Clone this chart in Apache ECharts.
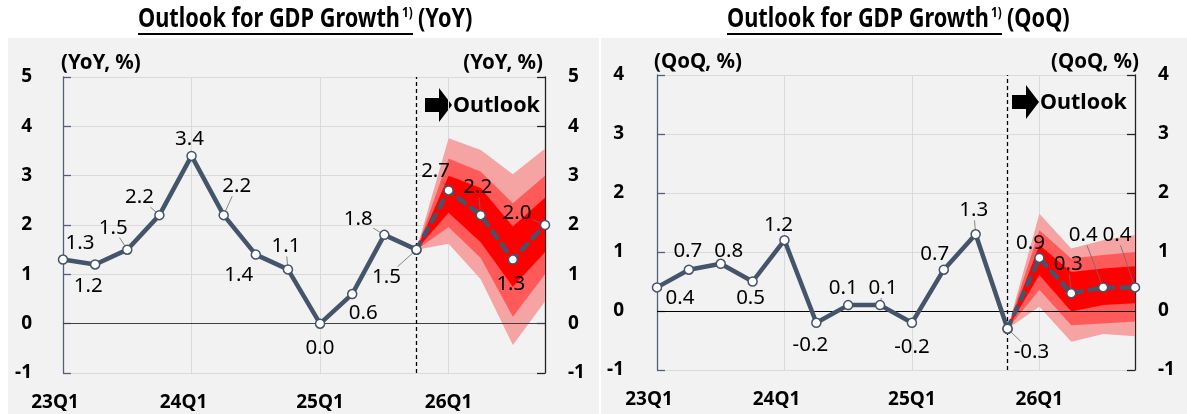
<!DOCTYPE html>
<html>
<head>
<meta charset="utf-8">
<script src="https://cdn.jsdelivr.net/npm/echarts@6/dist/echarts.min.js"></script>
<style>
  html, body { margin: 0; padding: 0; background: #ffffff; }
  #wrap { position: relative; width: 1187px; height: 414px; overflow: hidden; }
  .panel { position: absolute; background: #f2f2f2; }
  #chart { position: absolute; left: 0; top: 0; width: 1187px; height: 414px; }
</style>
</head>
<body>
<div id="wrap">
  <div class="panel" style="left:8px; top:38px; width:591px; height:376px;"></div>
  <div class="panel" style="left:601px; top:38px; width:586px; height:376px;"></div>
  <div id="chart"></div>
</div>
<script>
// Quarters on the horizontal axis
const categories = ['23Q1','23Q2','23Q3','23Q4','24Q1','24Q2','24Q3','24Q4',
                    '25Q1','25Q2','25Q3','25Q4','26Q1','26Q2','26Q3','26Q4'];

// Year-on-year GDP growth (%): outturn and outlook
const yoyActual  = [1.3, 1.2, 1.5, 2.2, 3.4, 2.2, 1.4, 1.1, 0.0, 0.6, 1.8, 1.5, null, null, null, null];
const yoyOutlook = [null, null, null, null, null, null, null, null, null, null, null, 1.5, 2.7, 2.2, 1.3, 2.0];

// Year-on-year uncertainty bands (outer / middle / inner)
const yoyOuterHigh = [null, null, null, null, null, null, null, null, null, null, null, 1.5, 3.76, 3.52, 3.03, 3.55];
const yoyOuterLow  = [null, null, null, null, null, null, null, null, null, null, null, 1.5, 1.62, 0.90, -0.43, 0.45];
const yoyMidHigh   = [null, null, null, null, null, null, null, null, null, null, null, 1.5, 3.35, 3.08, 2.44, 3.00];
const yoyMidLow    = [null, null, null, null, null, null, null, null, null, null, null, 1.5, 1.96, 1.33, 0.14, 1.00];
const yoyInHigh    = [null, null, null, null, null, null, null, null, null, null, null, 1.5, 3.00, 2.75, 1.97, 2.55];
const yoyInLow     = [null, null, null, null, null, null, null, null, null, null, null, 1.5, 2.25, 1.65, 0.75, 1.45];

// Quarter-on-quarter GDP growth (%): outturn and outlook
const qoqActual  = [0.4, 0.7, 0.8, 0.5, 1.2, -0.2, 0.1, 0.1, -0.2, 0.7, 1.3, -0.3, null, null, null, null];
const qoqOutlook = [null, null, null, null, null, null, null, null, null, null, null, -0.3, 0.9, 0.3, 0.4, 0.4];

// Quarter-on-quarter uncertainty bands
const qoqOuterHigh = [null, null, null, null, null, null, null, null, null, null, null, -0.3, 1.65, 1.06, 1.20, 1.29];
const qoqOuterLow  = [null, null, null, null, null, null, null, null, null, null, null, -0.3, 0.07, -0.52, -0.39, -0.43];
const qoqMidHigh   = [null, null, null, null, null, null, null, null, null, null, null, -0.3, 1.37, 0.89, 0.95, 1.00];
const qoqMidLow    = [null, null, null, null, null, null, null, null, null, null, null, -0.3, 0.36, -0.24, -0.21, -0.18];
const qoqInHigh    = [null, null, null, null, null, null, null, null, null, null, null, -0.3, 1.12, 0.66, 0.72, 0.76];
const qoqInLow     = [null, null, null, null, null, null, null, null, null, null, null, -0.3, 0.61, -0.01, 0.10, 0.13];

// Value-label placement (pixel offsets from each point)
const yoyLabelOffset = [[17,-16],[-7,22],[-14,-22],[-20,-18],[-2,-17],[13,-29],[-17,21],[-2,-23],
                        [0,24],[11,19],[-26,-16],[-30,27],[-13,-19],[-3,-28],[-2,25],[-28,-12]];
const qoqLabelOffset = [[23,11],[-1,-19],[8,-13],[-2,17],[-6,-15],[-6,22],[-5,-17],[3,-17],
                        [0,24],[-9,-16],[-2,-24],[24,23],[-9,-15],[-3,-29],[-20,-52],[-18,-52]];

// Points whose value label is tied back to the marker by a thin guide line
const yoyGuided = [2, 3, 5, 7, 10, 11, 12, 13, 15];
const qoqGuided = [7, 10, 11, 13, 14, 15];

// Quarter labels that sit a little left of their tick
const shiftedQuarterLabels = ['23Q1', '24Q1'];

const FONT = '"Noto Sans", "Open Sans", sans-serif';
const LINE = '#44546a';
const BAND_OUTER = '#f5a3a3';
const BAND_MID = '#ff5a5a';
const BAND_IN = '#ff0000';

const chart = echarts.init(document.getElementById('chart'), null, { renderer: 'canvas' });

function diff(hi, lo) {
  return hi.map((v, i) => (v == null || lo[i] == null) ? null : +(v - lo[i]).toFixed(3));
}

function bandSeries(gi, name, hi, lo, color, z) {
  const common = {
    type: 'line', xAxisIndex: gi, yAxisIndex: gi * 2, stack: name, stackStrategy: 'all',
    symbol: 'none', silent: true, z: z, lineStyle: { width: 0, opacity: 0 }
  };
  return [
    Object.assign({}, common, { data: lo }),
    Object.assign({}, common, { data: diff(hi, lo), areaStyle: { color: color, opacity: 1 } })
  ];
}

function labelledData(values, offsets, skipIndex) {
  return values.map((v, i) => {
    if (v == null) return null;
    return {
      value: v,
      label: { show: i !== skipIndex, offset: offsets[i] }
    };
  });
}

const labelStyle = {
  show: true, position: 'inside', color: '#000', fontFamily: FONT, fontSize: 20.5,
  formatter: p => Number(p.value).toFixed(1)
};
const markerStyle = { color: '#ffffff', borderColor: LINE, borderWidth: 1.5 };

function lineSeries(gi, actual, outlook, offsets) {
  return [
    {
      type: 'line', xAxisIndex: gi, yAxisIndex: gi * 2, data: labelledData(actual, offsets, -1),
      symbol: 'circle', symbolSize: 9, itemStyle: markerStyle, z: 8,
      lineStyle: { color: LINE, width: 4.5 }, label: labelStyle, silent: true
    },
    {
      type: 'line', xAxisIndex: gi, yAxisIndex: gi * 2, data: labelledData(outlook, offsets, 11),
      symbol: 'circle', symbolSize: 9, itemStyle: markerStyle, z: 7,
      lineStyle: { color: LINE, width: 4.5, type: [8, 8], cap: 'round' }, label: labelStyle, silent: true
    }
  ];
}

function guideSeries(gi) {
  return {
    type: 'line', xAxisIndex: gi, yAxisIndex: gi * 2, data: categories.map(() => null), z: 1, silent: true,
    markLine: {
      silent: true, symbol: ['none', 'none'], label: { show: false }, animation: false,
      data: [
        { yAxis: 0, lineStyle: { color: gi === 0 ? '#404040' : '#000', width: 1, type: 'solid' } },
        { xAxis: '25Q4', lineStyle: { color: '#000', width: 1.3, type: [4, 3] } }
      ]
    }
  };
}

function xAxis(gi) {
  const q = { color: '#000', fontFamily: FONT, fontSize: 19, fontWeight: 'bold' };
  return {
    type: 'category', gridIndex: gi, data: categories, boundaryGap: false,
    axisLine: { show: false }, axisTick: { show: false },
    axisLabel: Object.assign({
      interval: 3, margin: 20,
      formatter: v => shiftedQuarterLabels.indexOf(v) >= 0 ? '{s|' + v + '}' : v,
      rich: { s: Object.assign({ padding: [0, 16, 0, 0] }, q) }
    }, q),
    splitLine: { show: true, interval: 3, lineStyle: { color: '#dadada', width: 1 } }
  };
}

function yAxes(gi, max) {
  const base = {
    type: 'value', gridIndex: gi, min: -1, max: max, interval: 1,
    axisLabel: { color: '#000', fontFamily: FONT, fontSize: 19, fontWeight: 'bold' }
  };
  return [
    Object.assign({}, base, {
      position: 'left',
      axisLine: { show: true, lineStyle: { color: '#50607a', width: 1.3 } },
      axisTick: { show: true, inside: true, length: 8, lineStyle: { color: '#50607a', width: 1.3 } },
      axisLabel: Object.assign({}, base.axisLabel, { margin: gi === 0 ? 31 : 33 }),
      splitLine: { show: true, lineStyle: { color: '#dadada', width: 1 } }
    }),
    Object.assign({}, base, {
      position: 'right',
      axisLine: { show: true, lineStyle: { color: '#222', width: 1.3 } },
      axisTick: { show: true, inside: true, length: 8, lineStyle: { color: '#222', width: 1.3 } },
      axisLabel: Object.assign({}, base.axisLabel, { margin: 23, align: 'left' }),
      splitLine: { show: false }
    })
  ];
}

// Title pieces: condensed bold heading with superscript note marker and underline
const measureCtx = document.createElement('canvas').getContext('2d');
const TITLE_FONT = 'bold 26px ' + FONT;
measureCtx.font = TITLE_FONT;
const titleScale = 262 / measureCtx.measureText('Outlook for GDP Growth').width;

function titleGraphic(x0, suffix) {
  return [
    { type: 'text', x: x0, y: 20, scaleX: titleScale,
      style: { text: 'Outlook for GDP Growth', font: TITLE_FONT, fill: '#000', align: 'left', verticalAlign: 'middle' } },
    { type: 'text', x: x0 + 264, y: 13, scaleX: titleScale,
      style: { text: '1)', font: 'bold 14px ' + FONT, fill: '#000', align: 'left', verticalAlign: 'middle' } },
    { type: 'text', x: x0 + 280, y: 20, scaleX: titleScale,
      style: { text: suffix, font: TITLE_FONT, fill: '#000', align: 'left', verticalAlign: 'middle' } },
    { type: 'line', shape: { x1: x0, y1: 34, x2: x0 + 275, y2: 34 }, style: { stroke: '#000', lineWidth: 2 } }
  ];
}

function unitGraphic(xl, xr, y, text) {
  return [
    { type: 'text', x: xl, y: y, style: { text: text, font: 'bold 20.5px ' + FONT, fill: '#000', align: 'left', verticalAlign: 'middle' } },
    { type: 'text', x: xr, y: y, style: { text: text, font: 'bold 20.5px ' + FONT, fill: '#000', align: 'right', verticalAlign: 'middle' } }
  ];
}

function outlookGraphic(ax, ay) {
  // arrow pointing right, then the label
  return [
    { type: 'polygon', shape: { points: [[ax, ay - 7], [ax + 14, ay - 7], [ax + 14, ay - 17], [ax + 27, ay],
                                           [ax + 14, ay + 17], [ax + 14, ay + 7], [ax, ay + 7]] },
      style: { fill: '#000' } },
    { type: 'text', x: ax + 28, y: ay + 1, style: { text: 'Outlook', font: 'bold 21.5px ' + FONT, fill: '#000', align: 'left', verticalAlign: 'middle' } }
  ];
}

const staticGraphics = [].concat(
  titleGraphic(138, '(YoY)'),
  titleGraphic(727, '(QoQ)'),
  unitGraphic(61, 543, 63, '(YoY, %)'),
  unitGraphic(654, 1139, 62, '(QoQ, %)'),
  outlookGraphic(425, 105),
  outlookGraphic(1012, 102)
);

const option = {
  backgroundColor: 'transparent',
  animation: false,
  grid: [
    { left: 63, top: 77, width: 482, height: 296 },
    { left: 657, top: 75, width: 478, height: 295 }
  ],
  xAxis: [xAxis(0), xAxis(1)],
  yAxis: [].concat(yAxes(0, 5), yAxes(1, 4)),
  graphic: { elements: staticGraphics },
  series: [].concat(
    guideSeries(0),
    bandSeries(0, 'yoyOuter', yoyOuterHigh, yoyOuterLow, BAND_OUTER, 2),
    bandSeries(0, 'yoyMid', yoyMidHigh, yoyMidLow, BAND_MID, 3),
    bandSeries(0, 'yoyIn', yoyInHigh, yoyInLow, BAND_IN, 4),
    lineSeries(0, yoyActual, yoyOutlook, yoyLabelOffset),
    guideSeries(1),
    bandSeries(1, 'qoqOuter', qoqOuterHigh, qoqOuterLow, BAND_OUTER, 2),
    bandSeries(1, 'qoqMid', qoqMidHigh, qoqMidLow, BAND_MID, 3),
    bandSeries(1, 'qoqIn', qoqInHigh, qoqInLow, BAND_IN, 4),
    lineSeries(1, qoqActual, qoqOutlook, qoqLabelOffset)
  )
};

chart.setOption(option);

// Thin guide lines from a label's edge back to its marker, placed through the axes
function guideLines(gi, actual, outlook, offsets, indices) {
  const out = [];
  indices.forEach(i => {
    const v = actual[i] != null ? actual[i] : outlook[i];
    const p = chart.convertToPixel({ xAxisIndex: gi, yAxisIndex: gi * 2 }, [i, v]);
    const dx = offsets[i][0], dy = offsets[i][1];
    const len = Math.hypot(dx, dy);
    const t = Math.min(dx ? 15 / Math.abs(dx) : 9, dy ? 10 / Math.abs(dy) : 9, 1);
    const ex = p[0] + dx * (1 - t), ey = p[1] + dy * (1 - t);
    const sx = p[0] + dx / len * 3, sy = p[1] + dy / len * 3;
    if (Math.hypot(ex - sx, ey - sy) < 3) return;
    out.push({ type: 'line', z: 5, silent: true,
      shape: { x1: sx, y1: sy, x2: ex, y2: ey },
      style: { stroke: '#6b6b6b', lineWidth: 0.8 } });
  });
  return out;
}

chart.setOption({ graphic: { elements: staticGraphics.concat(
  guideLines(0, yoyActual, yoyOutlook, yoyLabelOffset, yoyGuided),
  guideLines(1, qoqActual, qoqOutlook, qoqLabelOffset, qoqGuided)
) } });
</script>
</body>
</html>
